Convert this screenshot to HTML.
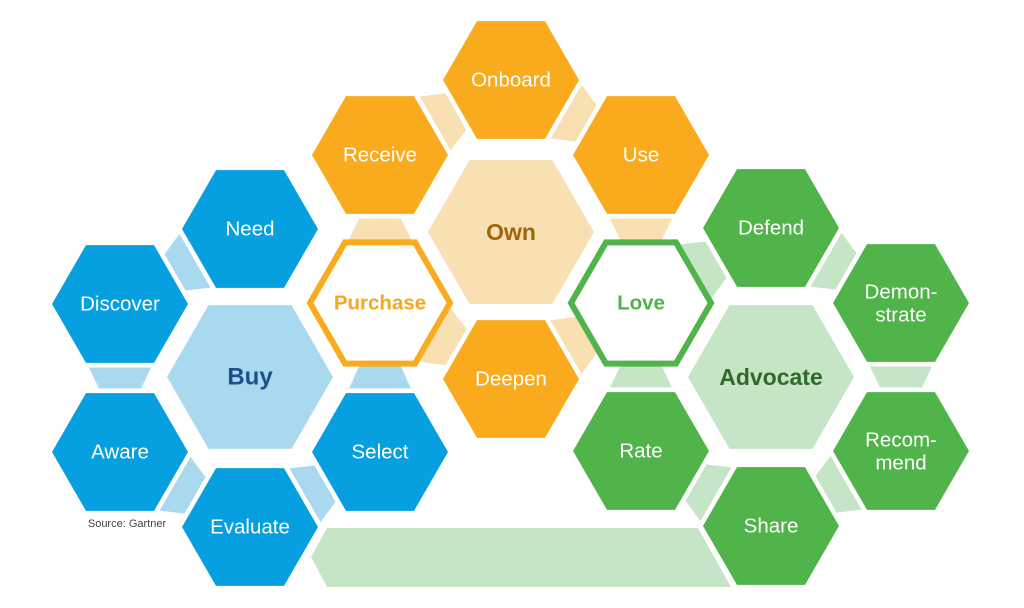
<!DOCTYPE html>
<html><head><meta charset="utf-8">
<style>
html,body{margin:0;padding:0;background:#fff;}
svg{display:block;}
text{font-family:"Liberation Sans",Arial,sans-serif;text-anchor:middle;dominant-baseline:central;}
</style></head>
<body>
<svg id="s" width="1024" height="608" viewBox="0 0 1024 608" xmlns="http://www.w3.org/2000/svg">
<g id="conn"></g>
<polygon points="327,528 698,528 731,587 327,587 311,557" fill="#c5e5c6"/>
<g id="hex"></g>
<g id="lab" font-size="20.5" fill="#fff">
<text x="250" y="229">Need</text>
<text x="120" y="304">Discover</text>
<text x="120" y="452">Aware</text>
<text x="250" y="527">Evaluate</text>
<text x="380" y="452">Select</text>
<text x="250" y="377" font-size="24" font-weight="bold" fill="#1f4e8c">Buy</text>
<text x="380" y="303" font-weight="bold" fill="#f5a81f">Purchase</text>
<text x="511" y="80">Onboard</text>
<text x="380" y="155">Receive</text>
<text x="641" y="155">Use</text>
<text x="511" y="232" font-size="23" font-weight="bold" fill="#a0650c">Own</text>
<text x="511" y="379">Deepen</text>
<text x="641" y="303" font-weight="bold" fill="#4fb34a">Love</text>
<text x="771" y="228">Defend</text>
<text x="901" y="292">Demon-</text>
<text x="901" y="315">strate</text>
<text x="901" y="440">Recom-</text>
<text x="901" y="463">mend</text>
<text x="771" y="526">Share</text>
<text x="641" y="451">Rate</text>
<text x="771" y="377" font-size="23" font-weight="bold" fill="#2e6b2a">Advocate</text>
<text x="127" y="524" font-size="11" fill="#444">Source: Gartner</text>
</g>
</svg>
<script>
var NS="http://www.w3.org/2000/svg";
function hexPts(cx,cy,r){var h=r*Math.sqrt(3)/2;return [[cx+r,cy],[cx+r/2,cy+h],[cx-r/2,cy+h],[cx-r,cy],[cx-r/2,cy-h],[cx+r/2,cy-h]].map(function(p){return p[0].toFixed(1)+","+p[1].toFixed(1)}).join(" ");}
function poly(g,pts,fill,stroke,sw){var p=document.createElementNS(NS,"polygon");p.setAttribute("points",pts);p.setAttribute("fill",fill);if(stroke){p.setAttribute("stroke",stroke);p.setAttribute("stroke-width",sw);p.setAttribute("stroke-linejoin","miter");}document.getElementById(g).appendChild(p);}
var B="#069fdf",LB="#a9d9ef",O="#f9ab1d",LO="#f8e0b2",G="#50b44b",LG="#c5e5c6";
var N={need:[250,229],disc:[120,304],aware:[120,452],eval:[250,527],sel:[380,452],purch:[380,303],
onb:[511,80],rec:[380,155],use:[641,155],deep:[511,379],love:[641,303],
def:[771,228],dem:[901,303],recm:[901,451],share:[771,526],rate:[641,451]};
var C=[["need","disc",LB],["disc","aware",LB],["aware","eval",LB],["eval","sel",LB],["sel","purch",LB],
["purch","rec",LO],["rec","onb",LO],["onb","use",LO],["use","love",LO],["purch","deep",LO],["deep","love",LO],
["love","def",LG],["def","dem",LG],["dem","recm",LG],["recm","share",LG],["share","rate",LG],["rate","love",LG]];
C.forEach(function(c){var a=N[c[0]],b=N[c[1]];var dx=b[0]-a[0],dy=b[1]-a[1],L=Math.hypot(dx,dy);var ux=dx/L,uy=dy/L,vx=-uy,vy=ux;
var s=63.5,w=31,w2=21;var p1=[a[0]+ux*s+vx*w,a[1]+uy*s+vy*w],p2=[a[0]+ux*s-vx*w,a[1]+uy*s-vy*w],p3=[b[0]-ux*s-vx*w2,b[1]-uy*s-vy*w2],p4=[b[0]-ux*s+vx*w2,b[1]-uy*s+vy*w2];
poly("conn",[p1,p2,p3,p4].map(function(p){return p[0].toFixed(1)+","+p[1].toFixed(1)}).join(" "),c[2]);});
poly("hex",hexPts(250,377,83),LB);
poly("hex",hexPts(511,232,83),LO);
poly("hex",hexPts(771,377,83),LG);
var sm=[["need",B],["disc",B],["aware",B],["eval",B],["sel",B],["onb",O],["rec",O],["use",O],["deep",O],["def",G],["dem",G],["recm",G],["share",G],["rate",G]];
sm.forEach(function(s){var p=N[s[0]];poly("hex",hexPts(p[0],p[1],68),s[1]);});
poly("hex",hexPts(380,303,70),"#fff",O,6);
poly("hex",hexPts(641,303,70),"#fff",G,6);
</script>
</body></html>
